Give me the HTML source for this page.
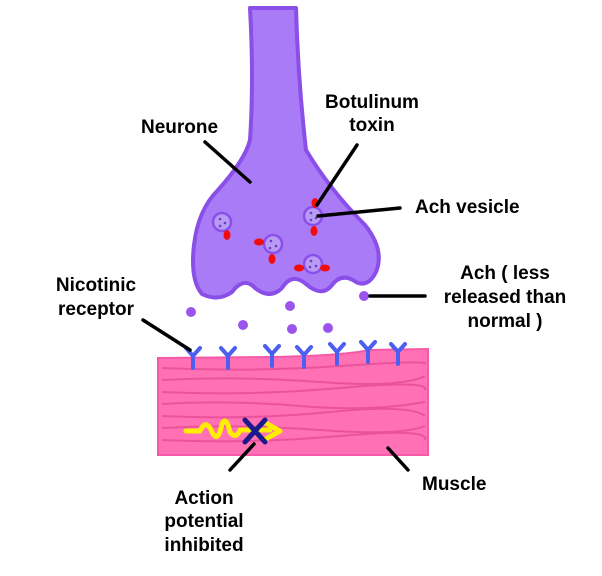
<!DOCTYPE html><html><head><style>body{margin:0;background:#fff}svg{display:block}text{font-family:"Liberation Sans",Arial,sans-serif;font-weight:bold;font-size:19px;fill:#000}</style></head><body>
<svg width="602" height="576" viewBox="0 0 602 576">
<path d="M250,8 L296,8 Q298,80 306,150 Q330,190 365,225 Q385,250 376,272 Q368,288 356,282 Q342,272 332,285 Q322,298 306,284 Q292,272 282,288 Q270,300 255,288 Q244,276 232,292 Q218,302 202,294 Q190,280 194,245 Q198,210 218,190 Q245,160 250,140 Q254,80 250,8 Z" fill="#a97bf7" stroke="#8a4fe8" stroke-width="4" stroke-linejoin="round"/>
<g fill="#b99af5" stroke="#8a4fe8" stroke-width="2.5">
<circle cx="222" cy="222" r="9"/><circle cx="313" cy="216" r="9"/><circle cx="273" cy="244" r="9"/><circle cx="313" cy="264" r="9"/></g>
<g fill="#6a3fc0"><circle cx="220" cy="219" r="1.3"/><circle cx="225" cy="223" r="1.3"/><circle cx="220" cy="226" r="1.3"/><circle cx="311" cy="213" r="1.3"/><circle cx="316" cy="218" r="1.3"/><circle cx="311" cy="220" r="1.3"/><circle cx="271" cy="241" r="1.3"/><circle cx="276" cy="246" r="1.3"/><circle cx="270" cy="248" r="1.3"/><circle cx="311" cy="261" r="1.3"/><circle cx="316" cy="266" r="1.3"/><circle cx="310" cy="267" r="1.3"/></g>
<g fill="#f20c0c"><ellipse cx="227" cy="235" rx="3.5" ry="5"/><ellipse cx="315" cy="203" rx="3.5" ry="5"/><ellipse cx="314" cy="231" rx="3.5" ry="5"/><ellipse cx="259" cy="242" rx="5" ry="3.5"/><ellipse cx="272" cy="259" rx="3.5" ry="5"/><ellipse cx="299" cy="268" rx="5" ry="3.5"/><ellipse cx="325" cy="268" rx="5" ry="3.5"/></g>
<g fill="#9b55ee"><circle cx="364" cy="296" r="5"/><circle cx="191" cy="312" r="5"/><circle cx="243" cy="325" r="5"/><circle cx="290" cy="306" r="5"/><circle cx="292" cy="329" r="5"/><circle cx="328" cy="328" r="5"/></g>
<path d="M158,358 L270,357 Q340,356 370,350 L428,349 L428,455 L158,455 Z" fill="#ff70b4" stroke="#f55aa8" stroke-width="2"/>
<g fill="none" stroke="#e64d97" stroke-width="2" opacity="0.8">
<path d="M162,368 Q250,372 340,366 T425,364"/><path d="M162,380 Q240,376 320,382 T425,376"/><path d="M162,392 Q250,396 340,388 T425,390"/><path d="M162,404 Q230,400 300,406 T425,402"/><path d="M162,416 Q250,420 330,412 T425,416"/><path d="M162,428 Q240,424 320,430 T425,426"/><path d="M162,440 Q250,444 340,436 T425,440"/></g>
<g fill="none" stroke="#4d5ff0" stroke-width="4" stroke-linecap="round">
<path d="M193,368 V356 M186,348 L193,356 L200,348"/><path d="M228,368 V356 M221,348 L228,356 L235,348"/><path d="M272,366 V354 M265,346 L272,354 L279,346"/><path d="M304,367 V355 M297,347 L304,355 L311,347"/><path d="M337,364 V352 M330,344 L337,352 L344,344"/><path d="M368,362 V350 M361,342 L368,350 L375,342"/><path d="M398,364 V352 M391,344 L398,352 L405,344"/></g>
<path d="M186,431 L200,431 Q206,418 212,432 Q218,444 222,424 Q226,415 230,432 Q236,440 240,430 L270,430" fill="none" stroke="#ffee00" stroke-width="5" stroke-linecap="round" stroke-linejoin="round"/>
<path d="M264,422 L280,431 L264,440" fill="none" stroke="#ffee00" stroke-width="5" stroke-linecap="round" stroke-linejoin="round"/>
<path d="M245,420 L265,442 M265,420 L245,442" stroke="#1a1a8c" stroke-width="5" stroke-linecap="round"/>
<g stroke="#000" stroke-width="3.5" stroke-linecap="round">
<line x1="205" y1="142" x2="250" y2="182"/><line x1="357" y1="145" x2="317" y2="205"/><line x1="318" y1="216" x2="400" y2="208"/><line x1="370" y1="296" x2="425" y2="296"/><line x1="143" y1="320" x2="190" y2="350"/><line x1="254" y1="444" x2="230" y2="470"/><line x1="388" y1="448" x2="408" y2="470"/></g>
<text x="141" y="133">Neurone</text>
<text x="372" y="108" text-anchor="middle">Botulinum</text><text x="372" y="131" text-anchor="middle">toxin</text>
<text x="415" y="213">Ach vesicle</text>
<text x="505" y="279" text-anchor="middle">Ach ( less</text><text x="505" y="303" text-anchor="middle">released than</text><text x="505" y="327" text-anchor="middle">normal )</text>
<text x="96" y="291" text-anchor="middle">Nicotinic</text><text x="96" y="315" text-anchor="middle">receptor</text>
<text x="422" y="490">Muscle</text>
<text x="204" y="504" text-anchor="middle">Action</text><text x="204" y="527" text-anchor="middle">potential</text><text x="204" y="551" text-anchor="middle">inhibited</text>
</svg></body></html>
